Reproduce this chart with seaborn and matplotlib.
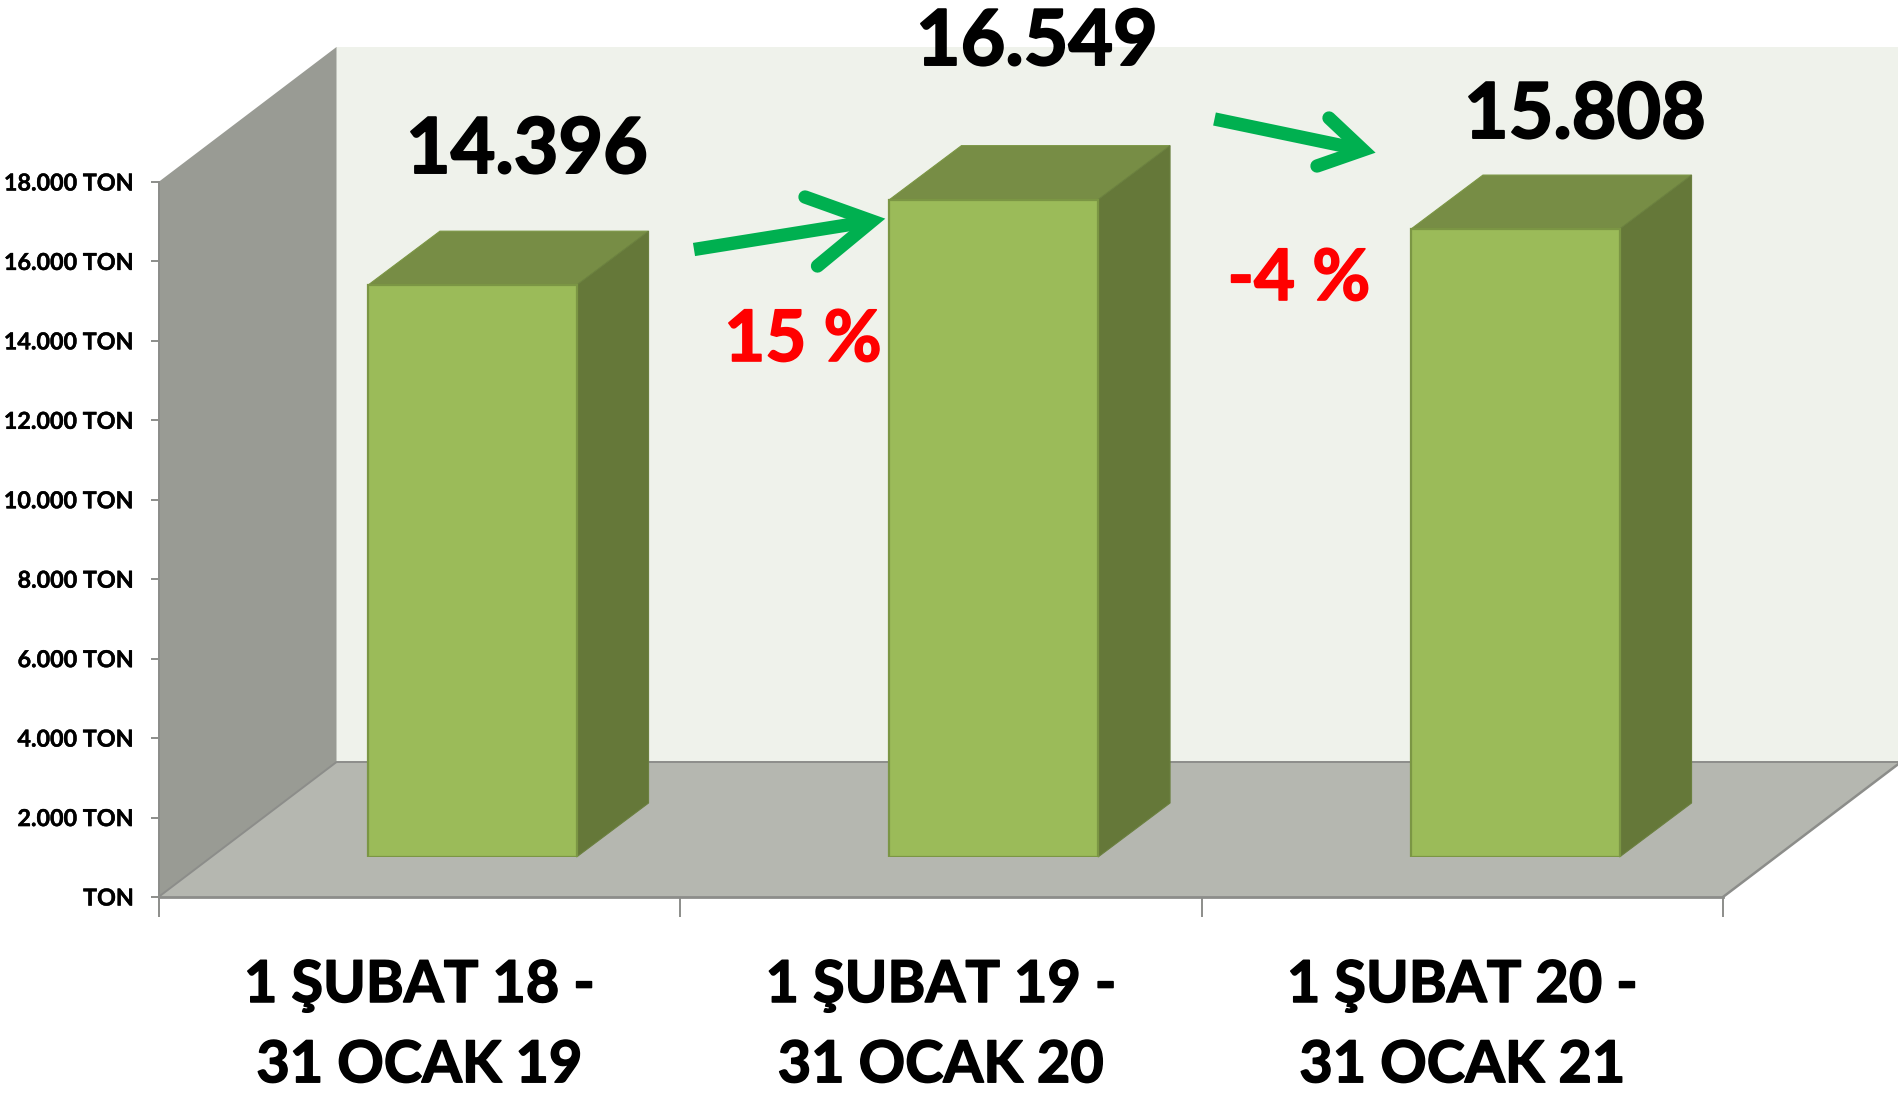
import matplotlib
matplotlib.use("Agg")
import matplotlib.pyplot as plt
import matplotlib.patheffects as pe
from matplotlib.patches import Polygon
import numpy as np
import pandas as pd
import seaborn as sns

categories = ["1 ŞUBAT 18 -\n31 OCAK 19", "1 ŞUBAT 19 -\n31 OCAK 20", "1 ŞUBAT 20 -\n31 OCAK 21"]
values = [14396, 16549, 15808]
value_labels = ["14.396", "16.549", "15.808"]
y_ticks = [0, 2000, 4000, 6000, 8000, 10000, 12000, 14000, 16000, 18000]
y_tick_labels = ["TON", "2.000 TON", "4.000 TON", "6.000 TON", "8.000 TON", "10.000 TON",
                 "12.000 TON", "14.000 TON", "16.000 TON", "18.000 TON"]
change_labels = ["15 %", "-4 %"]

sns.set_theme(style="white")
plt.rcParams["font.family"] = ["Lato", "DejaVu Sans"]
plt.rcParams["font.weight"] = "bold"

W, H = 1899, 1093
GREY = "#8C8D8A"
fig = plt.figure(figsize=(W / 100, H / 100), dpi=100, facecolor="white")


def rect(x0, x1, ytop, ybot):
    return [x0 / W, 1 - ybot / H, (x1 - x0) / W, (ybot - ytop) / H]


def pixel_axes(z):
    a = fig.add_axes([0, 0, 1, 1], zorder=z)
    a.set_xlim(0, W)
    a.set_ylim(H, 0)
    a.axis("off")
    a.patch.set_alpha(0)
    return a


def heavy(color, w=1.1):
    return [pe.withStroke(linewidth=w, foreground=color)]


# plot geometry in image pixels
L, R, Y18, Y0 = 158.5, 1723, 182, 897
DX, DY = 178, 135          # depth of the room
BX, BY = 72, 54            # depth of a bar
OX, OY = 53, 40            # bar plane offset from the axis plane

# room
bg = pixel_axes(0)
bg.add_patch(Polygon([(L + DX, Y18 - DY), (W + 5, Y18 - DY), (W + 5, Y0 - DY), (L + DX, Y0 - DY)],
                     fc="#EFF2EB", ec="none"))
bg.add_patch(Polygon([(L, Y18), (L + DX, Y18 - DY), (L + DX, Y0 - DY), (L, Y0)], fc="#999B94", ec="none"))
bg.add_patch(Polygon([(L, Y0), (L + DX, Y0 - DY), (R + DX, Y0 - DY), (R, Y0)], fc="#B5B7B0", ec="none"))
bg.plot([L, L + DX, W + 5], [Y0, Y0 - DY, Y0 - DY], color=GREY, lw=1.4)
bg.plot([R, R + DX], [Y0, Y0 - DY], color=GREY, lw=1.8)

# axis plane
ax = fig.add_axes(rect(L, R, Y18, Y0), zorder=1)
ax.patch.set_alpha(0)
ax.set_xlim(-0.5, 2.5)
ax.set_ylim(0, 18000)
ax.set_yticks(y_ticks)
ax.set_yticklabels(y_tick_labels, fontsize=16.8, fontweight="bold", color="black")
ax.set_xticks(np.arange(-0.5, 3, 1))
ax.set_xticklabels([])
ax.set_xticks(range(3), labels=categories, minor=True)
ax.tick_params(axis="x", which="major", length=14.4, width=1.4, color=GREY, bottom=True)
ax.tick_params(axis="x", which="minor", length=0, pad=45, labelsize=41.5, labelcolor="black", bottom=False)
ax.tick_params(axis="y", length=5.6, width=1.4, color=GREY, pad=12, left=True)
for lab in ax.get_xticklabels(minor=True):
    lab.set_fontweight("bold")
    lab.set_linespacing(1.62)
    lab.set_path_effects(heavy("black"))
for lab in ax.get_yticklabels():
    lab.set_path_effects(heavy("black", 0.3))
for side in ["top", "right"]:
    ax.spines[side].set_visible(False)
ax.spines["left"].set_color(GREY)
ax.spines["left"].set_linewidth(1.4)
ax.spines["bottom"].set_color(GREY)
ax.spines["bottom"].set_linewidth(2.0)

# bar plane
ax_b = fig.add_axes(rect(L + OX, R + OX, Y18 - OY, Y0 - OY), zorder=2)
ax_b.patch.set_alpha(0)
df = pd.DataFrame({"period": categories, "tons": values})
sns.barplot(data=df, x="period", y="tons", ax=ax_b, width=0.4, color="#9BBB59", saturation=1,
            edgecolor="#7B9644", linewidth=1.6)
ax_b.set_xlim(-0.5, 2.5)
ax_b.set_ylim(0, 18000)
ax_b.axis("off")

for bar in ax_b.patches:
    x0, x1 = bar.get_x(), bar.get_x() + bar.get_width()
    h = bar.get_height()
    (px0, py0), (px1, py1) = ax_b.transData.transform([(x0, 0), (x1, h)])
    top = Polygon([(px0, py1), (px1, py1), (px1 + BX, py1 + BY), (px0 + BX, py1 + BY)],
                  transform=None, fc="#778D45", ec="#7B9644", lw=0.8, clip_on=False, zorder=1)
    side = Polygon([(px1, py0), (px1, py1), (px1 + BX, py1 + BY), (px1 + BX, py0 + BY)],
                   transform=None, fc="#657839", ec="#6B8040", lw=0.8, clip_on=False, zorder=1)
    ax_b.add_artist(top)
    ax_b.add_artist(side)
    bar.set_zorder(3)

# annotations
ov = pixel_axes(3)
for lab, x, y in zip(value_labels, [527, 1037, 1585], [173, 65, 138]):
    ov.text(x, y, lab, ha="center", va="baseline", fontsize=55.5, fontweight="bold", color="black",
            path_effects=heavy("black", 1.4))
for lab, x, y in zip(change_labels, [803, 1299], [361, 300]):
    ov.text(x, y, lab, ha="center", va="baseline", fontsize=51, fontweight="bold", color="#FF0000",
            path_effects=heavy("#FF0000", 1.2))

GREEN = "#00B050"
STROKE = 9.6
arrows = [((694, 249.5), (872, 221), (805, 197), (817.5, 266)),
          ((1214.5, 119), (1363, 150), (1329, 118), (1317, 166))]
for tail, apex, a1, a2 in arrows:
    ov.plot([tail[0], apex[0]], [tail[1], apex[1]], color=GREEN, lw=STROKE, solid_capstyle="butt")
    ov.plot([a1[0], apex[0], a2[0]], [a1[1], apex[1], a2[1]], color=GREEN, lw=STROKE,
            solid_capstyle="round", solid_joinstyle="miter")

fig.savefig("out.png", dpi=100)
